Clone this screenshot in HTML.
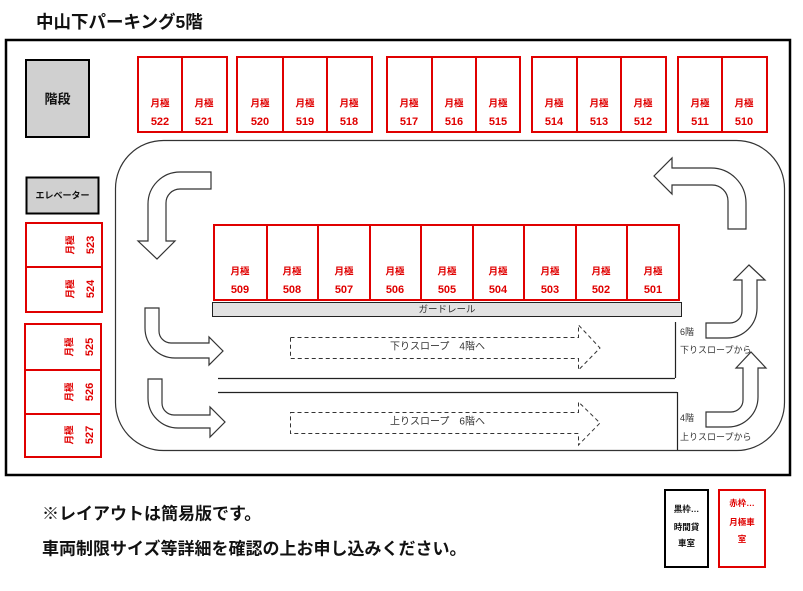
<!DOCTYPE html>
<html><head><meta charset="utf-8">
<style>
html,body{margin:0;padding:0;background:#fff;}
svg{display:block;}
text{font-family:"Liberation Sans","Noto Sans CJK JP",sans-serif;}
.r{fill:#e00000;font-weight:bold;}
.k{font-size:9.5px;}
.n{font-size:11px;}
</style></head>
<body>
<svg width="803" height="591" viewBox="0 0 803 591" xmlns="http://www.w3.org/2000/svg">
<!-- title -->
<text x="36" y="28" font-size="17.5" font-weight="bold" fill="#111">中山下パーキング5階</text>
<!-- outer frame -->
<rect x="6" y="40" width="784" height="435" fill="none" stroke="#000" stroke-width="2.5"/>
<!-- road -->
<rect x="115.5" y="140.5" width="669" height="310" rx="48" ry="48" fill="none" stroke="#333" stroke-width="1.2"/>
<path d="M218,378.5H675M218,392.5H677M675.5,322V378M677.5,392V450" stroke="#222" stroke-width="1.2" fill="none"/>
<!-- stairs -->
<rect x="26" y="60" width="63" height="77" fill="#d0d0d0" stroke="#000" stroke-width="2"/>
<text x="57.5" y="99" font-size="13" font-weight="bold" text-anchor="middle" dominant-baseline="central" fill="#111">階段</text>
<!-- elevator -->
<rect x="26.5" y="177.5" width="72" height="36" fill="#d0d0d0" stroke="#000" stroke-width="2"/>
<text x="62.5" y="195.5" font-size="9" font-weight="bold" text-anchor="middle" dominant-baseline="central" fill="#111">エレベーター</text>

<!-- top slots -->
<g fill="none" stroke="#e00000" stroke-width="2">
<rect x="138" y="57" width="89" height="75"/><line x1="182" y1="57" x2="182" y2="132"/>
<rect x="237" y="57" width="135" height="75"/><line x1="283" y1="57" x2="283" y2="132"/><line x1="327" y1="57" x2="327" y2="132"/>
<rect x="387" y="57" width="133" height="75"/><line x1="432" y1="57" x2="432" y2="132"/><line x1="476" y1="57" x2="476" y2="132"/>
<rect x="532" y="57" width="134" height="75"/><line x1="577" y1="57" x2="577" y2="132"/><line x1="621" y1="57" x2="621" y2="132"/>
<rect x="678" y="57" width="89" height="75"/><line x1="722" y1="57" x2="722" y2="132"/>
</g>
<g text-anchor="middle" dominant-baseline="central">
<text class="r k" x="160" y="104">月極</text><text class="r n" x="160" y="122">522</text>
<text class="r k" x="204" y="104">月極</text><text class="r n" x="204" y="122">521</text>
<text class="r k" x="260" y="104">月極</text><text class="r n" x="260" y="122">520</text>
<text class="r k" x="305" y="104">月極</text><text class="r n" x="305" y="122">519</text>
<text class="r k" x="349" y="104">月極</text><text class="r n" x="349" y="122">518</text>
<text class="r k" x="409" y="104">月極</text><text class="r n" x="409" y="122">517</text>
<text class="r k" x="454" y="104">月極</text><text class="r n" x="454" y="122">516</text>
<text class="r k" x="498" y="104">月極</text><text class="r n" x="498" y="122">515</text>
<text class="r k" x="554" y="104">月極</text><text class="r n" x="554" y="122">514</text>
<text class="r k" x="599" y="104">月極</text><text class="r n" x="599" y="122">513</text>
<text class="r k" x="643" y="104">月極</text><text class="r n" x="643" y="122">512</text>
<text class="r k" x="700" y="104">月極</text><text class="r n" x="700" y="122">511</text>
<text class="r k" x="744" y="104">月極</text><text class="r n" x="744" y="122">510</text>
</g>

<!-- center slots -->
<g fill="none" stroke="#e00000" stroke-width="2">
<rect x="214" y="225" width="465" height="75"/>
<line x1="267" y1="225" x2="267" y2="300"/><line x1="318" y1="225" x2="318" y2="300"/><line x1="370" y1="225" x2="370" y2="300"/><line x1="421" y1="225" x2="421" y2="300"/><line x1="473" y1="225" x2="473" y2="300"/><line x1="524" y1="225" x2="524" y2="300"/><line x1="576" y1="225" x2="576" y2="300"/><line x1="627" y1="225" x2="627" y2="300"/>
</g>
<g text-anchor="middle" dominant-baseline="central">
<text class="r k" x="240" y="272">月極</text><text class="r n" x="240" y="290">509</text>
<text class="r k" x="292" y="272">月極</text><text class="r n" x="292" y="290">508</text>
<text class="r k" x="344" y="272">月極</text><text class="r n" x="344" y="290">507</text>
<text class="r k" x="395" y="272">月極</text><text class="r n" x="395" y="290">506</text>
<text class="r k" x="447" y="272">月極</text><text class="r n" x="447" y="290">505</text>
<text class="r k" x="498" y="272">月極</text><text class="r n" x="498" y="290">504</text>
<text class="r k" x="550" y="272">月極</text><text class="r n" x="550" y="290">503</text>
<text class="r k" x="601" y="272">月極</text><text class="r n" x="601" y="290">502</text>
<text class="r k" x="653" y="272">月極</text><text class="r n" x="653" y="290">501</text>
</g>
<!-- guardrail -->
<rect x="212.5" y="302.5" width="469" height="14" fill="#e2e2e2" stroke="#222" stroke-width="1"/>
<text x="447" y="310" font-size="9.5" fill="#333" text-anchor="middle" dominant-baseline="central">ガードレール</text>

<!-- left slots -->
<g fill="none" stroke="#e00000" stroke-width="2">
<rect x="26" y="223" width="76" height="89"/><line x1="26" y1="267" x2="102" y2="267"/>
<rect x="25" y="324" width="76" height="133"/><line x1="25" y1="370" x2="101" y2="370"/><line x1="25" y1="414" x2="101" y2="414"/>
</g>
<g text-anchor="middle" dominant-baseline="central">
<g transform="translate(80,245) rotate(-90)"><text class="r k" x="0" y="-9">月極</text><text class="r n" x="0" y="11">523</text></g>
<g transform="translate(80,289) rotate(-90)"><text class="r k" x="0" y="-9">月極</text><text class="r n" x="0" y="11">524</text></g>
<g transform="translate(79,347) rotate(-90)"><text class="r k" x="0" y="-9">月極</text><text class="r n" x="0" y="11">525</text></g>
<g transform="translate(79,392) rotate(-90)"><text class="r k" x="0" y="-9">月極</text><text class="r n" x="0" y="11">526</text></g>
<g transform="translate(79,435) rotate(-90)"><text class="r k" x="0" y="-9">月極</text><text class="r n" x="0" y="11">527</text></g>
</g>

<!-- block arrows -->
<g fill="#fff" stroke="#333" stroke-width="1.2" stroke-linejoin="miter">
<path d="M211,172 L180,172 A32,32 0 0 0 148,204 L148,241 L138,241 L157,259 L175,241 L166,241 L166,203 A14,14 0 0 1 180,189 L211,189 Z"/>
<path d="M728,229 L728,201 A16,16 0 0 0 712,185 L672,185 L672,194 L654,176 L672,158 L672,168 L711,168 A35,35 0 0 1 746,203 L746,229 Z"/>
<path d="M145,308 L159,308 L159,331 A12,12 0 0 0 171,343 L209,343 L209,337 L223,351 L209,365 L209,358 L175,358 A30,30 0 0 1 145,328 Z"/>
<path d="M148,379 L162,379 L162,403 A12,12 0 0 0 174,415 L210,415 L210,407 L225,422 L210,437 L210,428 L178,428 A30,30 0 0 1 148,398 Z"/>
<path d="M706,323 L730,323 A12,12 0 0 0 742,311 L742,280 L734,280 L749,265 L765,280 L757,280 L757,308 A30,30 0 0 1 727,338 L706,338 Z"/>
<path d="M706,412 L731,412 A12,12 0 0 0 743,400 L743,368 L736,368 L751,352 L766,368 L758,368 L758,397 A30,30 0 0 1 728,427 L706,427 Z"/>
</g>

<!-- dashed slope arrows -->
<g fill="none" stroke="#333" stroke-width="1" stroke-dasharray="4,3">
<path d="M290.5,337.5 L578.5,337.5 L578.5,325 L600,348 L578.5,370 L578.5,358.5 L290.5,358.5 Z"/>
<path d="M290.5,412.5 L578.5,412.5 L578.5,402 L600,423 L578.5,445 L578.5,433.5 L290.5,433.5 Z"/>
</g>
<text x="390" y="347" font-size="10" fill="#333" dominant-baseline="central">下りスロープ　4階へ</text>
<text x="390" y="422" font-size="10" fill="#333" dominant-baseline="central">上りスロープ　6階へ</text>

<g font-size="9" fill="#333" dominant-baseline="central">
<text x="680" y="332">6階</text>
<text x="680" y="350">下りスロープから</text>
<text x="680" y="418">4階</text>
<text x="680" y="437">上りスロープから</text>
</g>

<!-- notes -->
<text x="42" y="514" font-size="17" font-weight="bold" fill="#111" dominant-baseline="central">※レイアウトは簡易版です。</text>
<text x="42" y="549" font-size="17" font-weight="bold" fill="#111" dominant-baseline="central">車両制限サイズ等詳細を確認の上お申し込みください。</text>

<!-- legend -->
<rect x="665" y="490" width="43" height="77" fill="none" stroke="#000" stroke-width="2"/>
<g font-size="8.5" font-weight="bold" fill="#111" text-anchor="middle" dominant-baseline="central">
<text x="686.5" y="509">黒枠…</text>
<text x="686.5" y="527">時間貸</text>
<text x="686.5" y="543">車室</text>
</g>
<rect x="719" y="490" width="46" height="77" fill="none" stroke="#e00000" stroke-width="2"/>
<g font-size="8.5" font-weight="bold" fill="#e00000" text-anchor="middle" dominant-baseline="central">
<text x="742" y="503">赤枠…</text>
<text x="742" y="522">月極車</text>
<text x="742" y="539">室</text>
</g>
</svg>
</body></html>
